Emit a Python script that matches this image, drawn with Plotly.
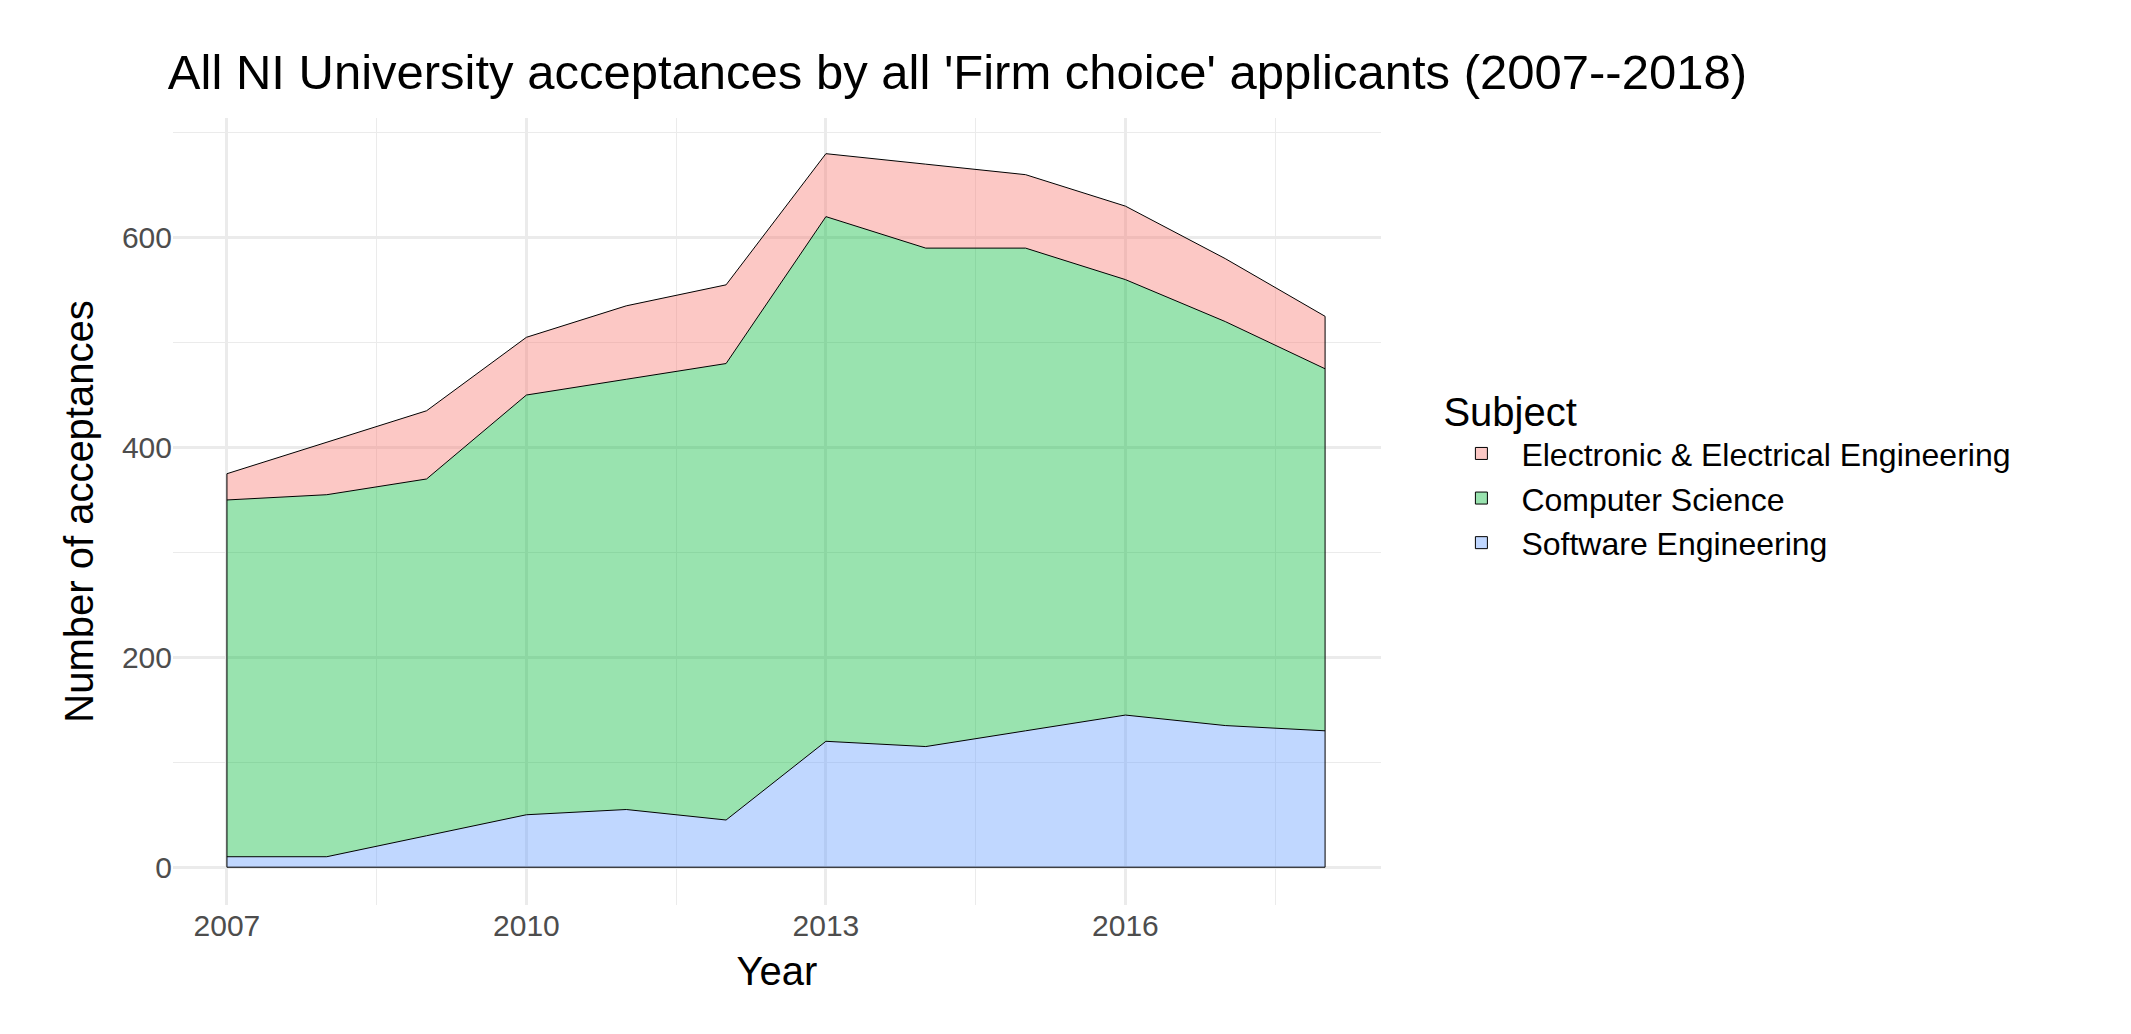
import plotly.graph_objects as go

years = list(range(2007, 2019))
software_eng = [10, 10, 30, 50, 55, 45, 120, 115, 130, 145, 135, 130]
computer_sci = [340, 345, 340, 400, 410, 435, 500, 475, 460, 415, 385, 345]
electronic_eng = [25, 50, 65, 55, 70, 75, 60, 80, 70, 70, 60, 50]

series = [
    ("Software Engineering", software_eng, "rgba(97,156,255,0.4)"),
    ("Computer Science", computer_sci, "rgba(0,186,56,0.4)"),
    ("Electronic & Electrical Engineering", electronic_eng, "rgba(248,118,109,0.4)"),
]

fig = go.Figure()
for name, vals, col in series:
    fig.add_trace(go.Scatter(x=years, y=vals, name=name, mode="lines", stackgroup="one",
                             line=dict(color="black", width=1), fillcolor=col, showlegend=False))

# outline of the whole stack: baseline and the two ends
totals = [a + b + c for a, b, c in zip(software_eng, computer_sci, electronic_eng)]
fig.add_trace(go.Scatter(x=[years[0], years[0], years[-1], years[-1]],
                         y=[totals[0], 0, 0, totals[-1]], mode="lines",
                         line=dict(color="black", width=1), showlegend=False, hoverinfo="skip"))

# square legend keys
for name, vals, col in series:
    fig.add_trace(go.Bar(x=[None], y=[None], name=name, marker=dict(color=col, line=dict(color="black", width=1))))

grid = "#ebebeb"
fig.update_layout(
    width=2131, height=1034,
    paper_bgcolor="white", plot_bgcolor="white",
    font=dict(family="Liberation Sans, Arial, sans-serif", color="black"),
    title=dict(text="All NI University acceptances by all 'Firm choice' applicants (2007--2018)",
               x=0.075, xanchor="left", y=0.955, font=dict(size=49)),
    margin=dict(l=165, r=758, t=110, b=137),
    legend=dict(title=dict(text="Subject", font=dict(size=40)), traceorder="reversed",
                font=dict(size=32), x=1.05, y=0.55, yanchor="middle", itemwidth=70,
                tracegroupgap=0),
    xaxis=dict(title=dict(text="Year", font=dict(size=40)), range=[2006.46, 2018.56],
               tickvals=[2007, 2010, 2013, 2016], tickfont=dict(size=30, color="#4d4d4d"),
               showgrid=True, gridcolor=grid, gridwidth=2.5, zeroline=False,
               minor=dict(tickvals=[2008.5, 2011.5, 2014.5, 2017.5], showgrid=True,
                          gridcolor=grid, gridwidth=1.2)),
    yaxis=dict(title=dict(text="Number of acceptances", font=dict(size=40), standoff=15),
               range=[-36, 714],
               tickvals=[0, 200, 400, 600], tickfont=dict(size=30, color="#4d4d4d"),
               showgrid=True, gridcolor=grid, gridwidth=2.5, zeroline=False,
               minor=dict(tickvals=[100, 300, 500, 700], showgrid=True,
                          gridcolor=grid, gridwidth=1.2)),
)

fig.write_html("out.html")
